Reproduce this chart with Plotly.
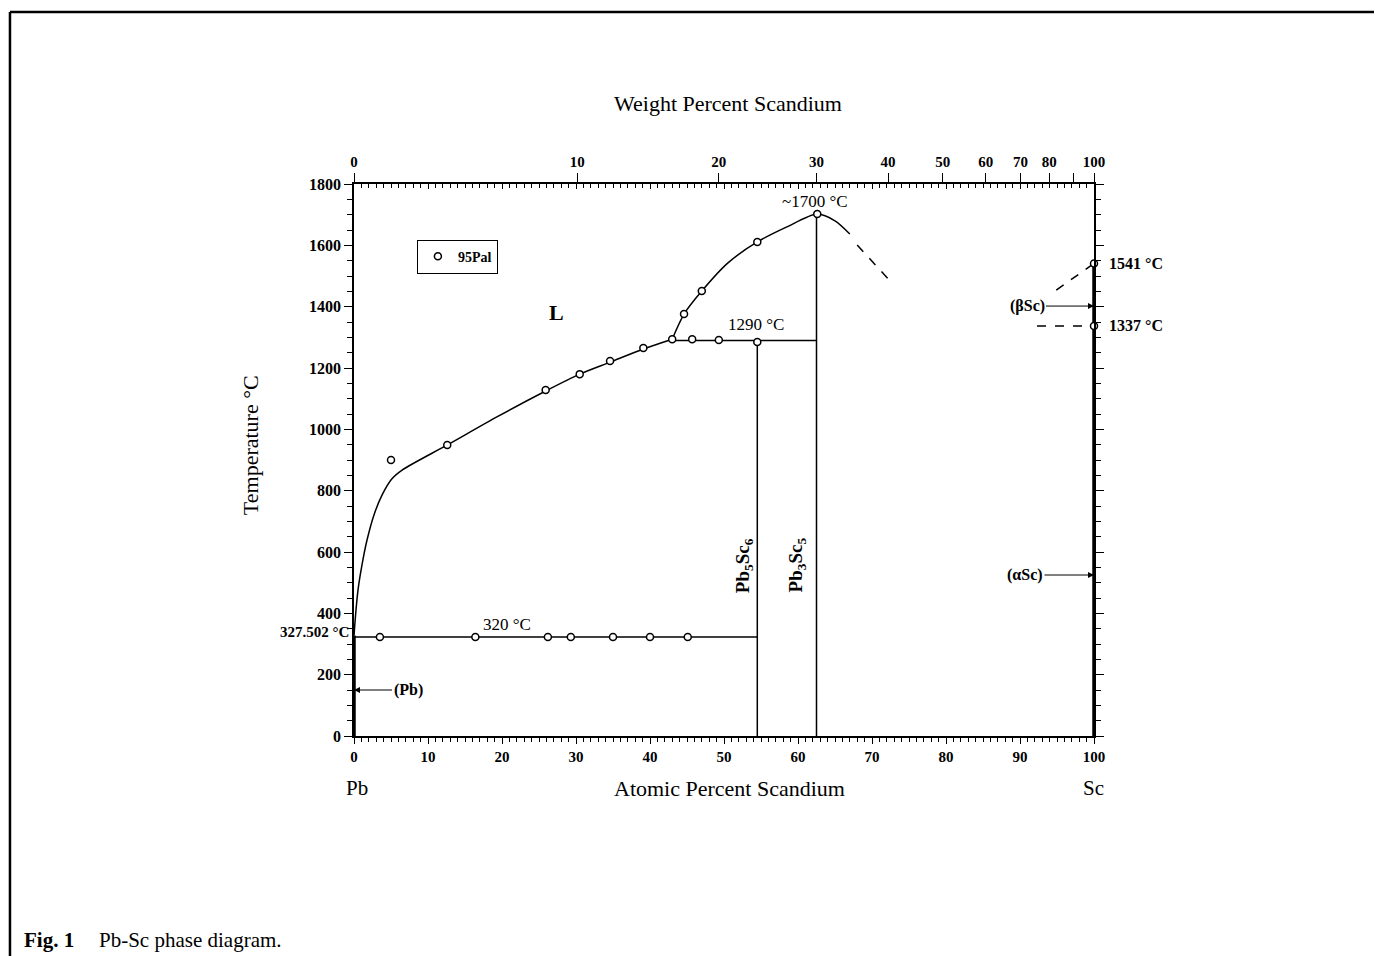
import plotly.graph_objects as go

# ---------------- data (atomic % Sc, temperature °C) ----------------
liq1_at = [0.0, 0.27, 0.54, 1.08, 1.76, 2.7, 3.8, 5.1, 6.5, 12.6, 19.5, 25.9, 30.5, 34.6, 39.1, 43.0]
liq1_T = [327.5, 411, 476, 558, 639, 721, 786, 838, 867, 949, 1043, 1125, 1180, 1219, 1262, 1294]

liq2_at = [43.0, 44.6, 47.0, 50.5, 54.5, 58.5, 62.6, 65.0, 67.0]
liq2_T = [1294, 1376, 1451, 1542, 1611, 1660, 1702, 1680, 1637]

liq2_dash_at = [68.0, 72.7]
liq2_dash_T = [1601, 1477]

sc_dash1_at = [94.9, 100.0]
sc_dash1_T = [1454, 1541]
sc_dash2_at = [92.3, 100.0]
sc_dash2_T = [1337, 1337]

eut_at = [0.0, 54.5]
eut_T = [323, 323]
per_at = [43.0, 62.5]
per_T = [1290, 1290]

pb5sc6_at = [54.5, 54.5]
pb5sc6_T = [0, 1290]
pb3sc5_at = [62.5, 62.5]
pb3sc5_T = [0, 1700]

pb_at = [0, 0]
pb_T = [0, 327.5]
sc_at = [100, 100]
sc_T = [0, 1541]

pal_at = [5.0, 12.6, 25.9, 30.5, 34.6, 39.1, 43.0, 44.6, 47.0, 54.5, 62.6,
          45.7, 49.3, 54.5,
          3.5, 16.4, 26.2, 29.3, 35.0, 40.0, 45.1,
          100, 100]
pal_T = [900, 949, 1128, 1180, 1223, 1265, 1294, 1376, 1451, 1611, 1702,
         1294, 1291, 1285,
         323, 323, 323, 323, 323, 323, 323,
         1541, 1337]

at_ticks = list(range(0, 101, 10))
T_ticks = list(range(0, 1801, 200))
wt_ticks = [0, 10, 20, 30, 40, 50, 60, 70, 80, 90, 100]
wt_labels = ["0", "10", "20", "30", "40", "50", "60", "70", "80", "", "100"]
MASS_RATIO = 3.89  # ratio used by the diagram's weight-percent scale


def wt_to_at(w):
    if w >= 100:
        return 100.0
    return 100.0 * w * MASS_RATIO / (w * MASS_RATIO + (100.0 - w))


FONT = "Liberation Serif"

fig = go.Figure()


def line(xs, ys, width=1.5, dash=None):
    fig.add_trace(go.Scatter(x=xs, y=ys, mode="lines", showlegend=False,
                             cliponaxis=False, hoverinfo="skip",
                             line=dict(color="black", width=width, dash=dash)))


fig.add_trace(go.Scatter(x=liq1_at, y=liq1_T, mode="lines", showlegend=False, cliponaxis=False,
                         line=dict(color="black", width=1.5, shape="spline", smoothing=0.8)))
fig.add_trace(go.Scatter(x=liq2_at, y=liq2_T, mode="lines", showlegend=False, cliponaxis=False,
                         line=dict(color="black", width=1.5, shape="spline", smoothing=0.8)))
line(liq2_dash_at, liq2_dash_T, dash="dash")
line(sc_dash1_at, sc_dash1_T, dash="dash")
line(sc_dash2_at, sc_dash2_T, dash="dash")
line(eut_at, eut_T)
line(per_at, per_T)
line(pb5sc6_at, pb5sc6_T)
line(pb3sc5_at, pb3sc5_T)
line(pb_at, pb_T, width=3.5)
line(sc_at, sc_T, width=3.5)

fig.add_trace(go.Scatter(x=pal_at, y=pal_T, mode="markers", name="95Pal", cliponaxis=False,
                         marker=dict(symbol="circle", size=7, color="white",
                                     line=dict(color="black", width=1.5))))

# top axes (weight-percent labels, atomic-percent inner ticks)
fig.add_trace(go.Scatter(x=[0, 100], y=[0, 0], xaxis="x2", mode="markers",
                         marker=dict(opacity=0), showlegend=False, hoverinfo="skip"))
fig.add_trace(go.Scatter(x=[0, 100], y=[0, 0], xaxis="x3", mode="markers",
                         marker=dict(opacity=0), showlegend=False, hoverinfo="skip"))

xtickfont = dict(family=FONT, size=15, color="black", weight="bold")
ytickfont = dict(family=FONT, size=16, color="black", weight="bold")

# the page adds an 8px body margin; the figure is sized so the plot area sits at 354..1094 x 184..736
fig.update_layout(
    width=1374, height=948,
    paper_bgcolor="white", plot_bgcolor="white",
    margin=dict(l=346, r=288, t=176, b=220),
    font=dict(family=FONT, color="black"),
    xaxis=dict(range=[0, 100], showgrid=False, zeroline=False, showline=True,
               linecolor="black", linewidth=1.5, ticks="outside", ticklen=6,
               tickwidth=1, tickcolor="black", tickvals=at_ticks, tickfont=xtickfont,
               minor=dict(ticks="outside", dtick=1, ticklen=4, tickcolor="black", tickwidth=1)),
    xaxis2=dict(range=[0, 100], overlaying="x", side="top", anchor="y", showgrid=False,
                zeroline=False, showline=False, ticks="outside", ticklen=10, tickwidth=1,
                tickcolor="black", tickvals=[wt_to_at(w) for w in wt_ticks],
                ticktext=wt_labels, tickfont=xtickfont),
    xaxis3=dict(range=[0, 100], overlaying="x", side="top", anchor="y", showgrid=False,
                zeroline=False, showline=True, linecolor="black", linewidth=1.5,
                ticks="inside", ticklen=5, tickwidth=1, tickcolor="black",
                tickvals=at_ticks, showticklabels=False,
                minor=dict(ticks="inside", dtick=1, ticklen=4, tickcolor="black", tickwidth=1)),
    yaxis=dict(range=[0, 1800], showgrid=False, zeroline=False, showline=True,
               linecolor="black", linewidth=1.5, mirror="ticks", ticks="outside",
               ticklen=8, tickwidth=1, tickcolor="black", tickvals=T_ticks,
               tickfont=ytickfont,
               minor=dict(ticks="outside", dtick=50, ticklen=5, tickcolor="black", tickwidth=1)),
    legend=dict(x=0.085, y=0.899, xanchor="left", yanchor="top", bgcolor="white",
                bordercolor="black", borderwidth=1, itemwidth=30,
                font=dict(family=FONT, size=14, color="black", weight="bold"),
                tracegroupgap=0),
    showlegend=True,
)

ann = []


def txt(x, y, s, size=14, bold=False, xref="x", yref="y", xanchor="center", yanchor="middle",
        angle=0):
    ann.append(dict(x=x, y=y, xref=xref, yref=yref, text=s, showarrow=False,
                    xanchor=xanchor, yanchor=yanchor, textangle=angle,
                    font=dict(family=FONT, size=size, color="black",
                              weight="bold" if bold else "normal")))


txt(0.505, 1.145, "Weight Percent Scandium", size=22, xref="paper", yref="paper")
txt(0.507, -0.096, "Atomic Percent Scandium", size=22, xref="paper", yref="paper")
txt(-0.1405, 0.527, "Temperature °C", size=22, xref="paper", yref="paper", angle=-90)
txt(0.4, -0.094, "Pb", size=21, yref="paper")
txt(99.9, -0.094, "Sc", size=21, yref="paper")
txt(27.4, 1382, "L", size=22, bold=True)
txt(54.3, 1342, "1290 °C", size=17)
txt(62.3, 1742, "~1700 °C", size=17)
txt(20.7, 362, "320 °C", size=17)
txt(-0.004, 339, "327.502 °C", size=15, bold=True, xref="paper", xanchor="right")
txt(1.017, 1541, "1541 °C", size=16, bold=True, xref="paper", xanchor="left")
txt(1.017, 1337, "1337 °C", size=16, bold=True, xref="paper", xanchor="left")
txt(52.7, 557, "Pb<sub>5</sub>Sc<sub>6</sub>", size=19, bold=True, angle=-90)
txt(59.9, 557, "Pb<sub>3</sub>Sc<sub>5</sub>", size=19, bold=True, angle=-90)
txt(-0.4486, -0.3696, "Fig. 1", size=21, bold=True, xref="paper", yref="paper", xanchor="left")
txt(-0.3473, -0.3696, "Pb-Sc phase diagram.", size=21, xref="paper", yref="paper", xanchor="left")


def arrow(x, y, s, ax):
    ann.append(dict(x=x, y=y, xref="x", yref="y", text=s, showarrow=True, ax=ax, ay=0,
                    arrowhead=2, arrowsize=1.2, arrowwidth=1, arrowcolor="black",
                    font=dict(family=FONT, size=16, color="black", weight="bold")))


arrow(100, 1402, "(βSc)", -67)
arrow(100, 525, "(αSc)", -69)
arrow(0, 150, "(Pb)", 54)

fig.update_layout(annotations=ann)

# scanned page frame (top and left edges)
fig.add_shape(type="line", xref="paper", yref="paper", x0=-0.4649, y0=1.3116, x1=1.39, y1=1.3116,
              line=dict(color="black", width=2.5))
fig.add_shape(type="line", xref="paper", yref="paper", x0=-0.4649, y0=1.3116, x1=-0.4649, y1=-0.40,
              line=dict(color="black", width=2.5))

fig.write_html("out.html")
